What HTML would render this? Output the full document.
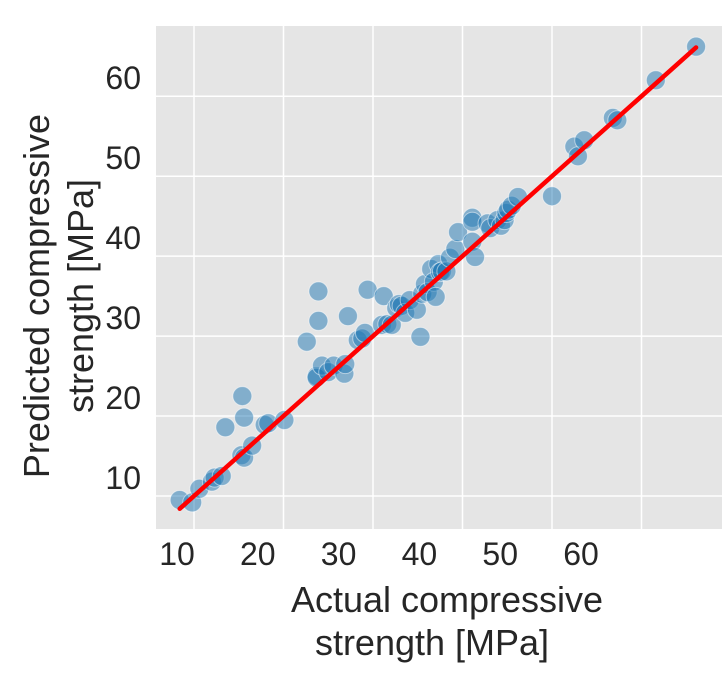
<!DOCTYPE html>
<html><head><meta charset="utf-8"><style>
body{margin:0;background:#fff;}
svg text{font-family:"Liberation Sans",Arial,sans-serif;fill:#262626;}
</style></head><body>
<svg id="chart" width="728" height="684" xmlns="http://www.w3.org/2000/svg">
<rect x="156" y="26" width="566" height="503" fill="#e5e5e5"/>
<g id="grid"></g>
<g id="pts"></g>
<g id="fit"></g>
<g id="ticks"></g>
<text x="447" y="612" font-size="36" text-anchor="middle">Actual compressive</text>
<text x="432" y="655" font-size="36" text-anchor="middle">strength [MPa]</text>
<text transform="translate(49,296) rotate(-90)" font-size="36" text-anchor="middle">Predicted compressive</text>
<text transform="translate(93,296) rotate(-90)" font-size="36" text-anchor="middle">strength [MPa]</text>
</svg>
<script>
const actual=[8.4,9.8,10.6,12.0,12.3,13.1,13.5,15.3,15.6,15.4,15.6,16.5,17.9,18.3,20.1,22.6,23.7,23.7,23.9,23.9,24.3,25.0,25.6,26.8,27.2,26.9,28.3,28.8,29.1,29.4,31.0,31.2,31.6,32.1,32.6,32.9,33.2,33.6,34.1,34.9,35.3,35.5,35.8,36.1,36.5,36.8,37.0,37.3,37.5,37.7,38.2,38.6,39.2,39.5,41.1,41.1,41.1,41.4,42.8,43.1,43.9,44.3,44.7,44.9,45.1,45.5,46.2,50.0,52.5,52.9,53.6,56.8,57.3,61.6,66.1];
const predicted=[9.5,9.2,10.9,11.8,12.3,12.5,18.6,15.1,14.8,22.5,19.8,16.3,18.9,19.1,19.5,29.3,25.0,24.8,31.9,35.6,26.3,25.5,26.3,25.3,32.5,26.5,29.5,29.7,30.4,35.8,31.4,35.0,31.5,31.4,33.5,34.0,33.8,32.9,34.5,33.3,29.9,35.3,36.5,35.5,38.4,36.8,34.9,39.0,38.0,38.1,38.1,39.8,40.9,43.0,44.8,44.3,41.8,39.9,44.1,43.5,44.5,43.8,44.5,45.4,45.8,46.3,47.4,47.5,53.7,52.5,54.5,57.3,57.0,62.0,66.2];
const gridVals=[10,20,30,40,50,60];
const tickLabels=["10","20","30","40","50","60"];
const fitRange=[8.4,66.1];
const NS="http://www.w3.org/2000/svg";
const X=v=>194+(v-10)*8.95, Y=v=>496-(v-10)*7.995;
function mk(t,a,p){const e=document.createElementNS(NS,t);for(const k in a)e.setAttribute(k,a[k]);p.appendChild(e);return e;}
const g=document.getElementById('grid');
gridVals.forEach(v=>{
 const l1=mk('line',{x1:X(v),x2:X(v),y1:26,y2:529,stroke:'#fff','stroke-width':1.5},g);
 
 
 const l2=mk('line',{x1:156,x2:722,y1:Y(v),y2:Y(v),stroke:'#fff','stroke-width':1.5},g);
 
 
});
const tg=document.getElementById('ticks');
tickLabels.forEach((s,i)=>{
 const t=mk('text',{x:177+i*80.8,y:565,'font-size':32,'text-anchor':'middle'},tg);t.textContent=s;
 
 
 const u=mk('text',{x:141,y:489-i*80,'font-size':32,'text-anchor':'end'},tg);u.textContent=s;
 
 
});
const pg=document.getElementById('pts');
actual.forEach((a,i)=>{
 const c=mk('circle',{cx:X(a),cy:Y(predicted[i]),r:9.5,fill:'rgba(31,119,180,0.5)',stroke:'rgba(255,255,255,0.5)','stroke-width':1},pg);
 
 
});
const f=mk('line',{x1:X(fitRange[0]),y1:Y(fitRange[0]),x2:X(fitRange[1]),y2:Y(fitRange[1]),stroke:'#ff0000','stroke-width':4.5,'stroke-linecap':'round'},document.getElementById('fit'));


</script>
</body></html>
